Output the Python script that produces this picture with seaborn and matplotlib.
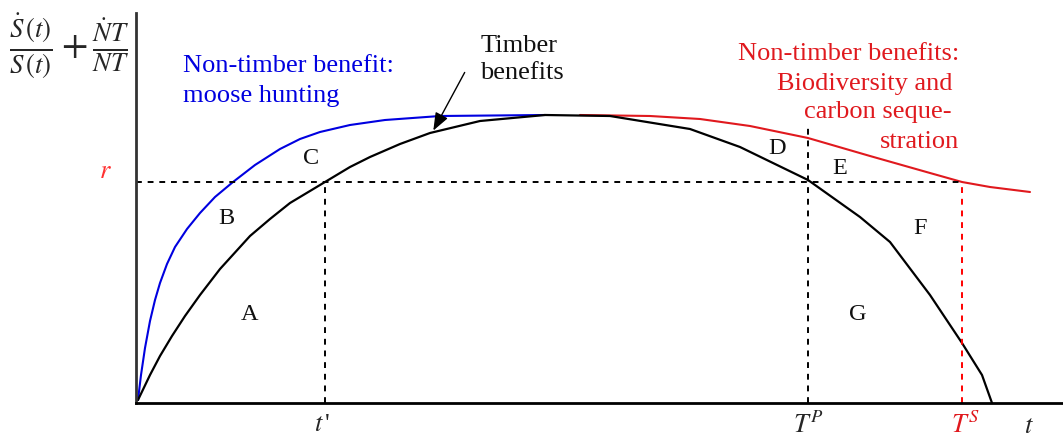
import numpy as np
import pandas as pd
import matplotlib
matplotlib.use("Agg")
import matplotlib.pyplot as plt
import seaborn as sns

# Marginal benefit curves over stand age t (x in age units, y in benefit units)
timber_t = [138, 150, 160, 172, 185, 200, 220, 250, 270, 290, 325, 350, 370, 400, 430, 480, 545,
            610, 690, 740, 808, 860, 890, 930, 962, 982, 992]
timber_v = [3, 28, 47, 67, 87, 108, 134, 167, 184, 200, 221, 236, 246, 259, 270, 282, 288,
            287, 274, 256, 223, 186, 161, 108, 60, 28, 0]

moose_t = [138, 141, 145, 150, 155, 160, 167, 175, 187, 200, 215, 233, 255, 280, 300, 320, 350, 385, 440, 545]
moose_v = [3, 28, 55, 82, 103, 120, 139, 156, 174, 190, 206, 221, 238, 254, 264, 271, 278, 283, 287, 288]

biodiv_t = [580, 650, 700, 750, 808, 870, 930, 962, 990, 1030]
biodiv_v = [288, 287, 284, 277, 265, 247, 230, 221, 216, 211]

# Interest rate and the rotation ages
r_level = 221
t_prime = 325
T_P = 808
T_S = 962

# Area labels
area_names = ["A", "B", "C", "D", "E", "F", "G"]
area_t = [250, 226, 311, 777, 840, 920, 858]
area_v = [88, 185, 245, 254, 235, 175, 88]

sns.set_theme(style="white")
plt.rcParams["font.family"] = ["Liberation Serif", "DejaVu Serif"]
plt.rcParams["mathtext.fontset"] = "stix"

fig = plt.figure(figsize=(10.63, 4.37), dpi=100)
ax = fig.add_axes([136 / 1063, (437 - 403) / 437, (1063 - 136) / 1063, (403 - 13) / 437])

timber = pd.DataFrame({"t": timber_t, "v": timber_v})
moose = pd.DataFrame({"t": moose_t, "v": moose_v})
biodiv = pd.DataFrame({"t": biodiv_t, "v": biodiv_v})

sns.lineplot(data=biodiv, x="t", y="v", sort=False, color="#e0191e", lw=1.5, ax=ax)
sns.lineplot(data=moose, x="t", y="v", sort=False, color="#0000e0", lw=1.5, ax=ax)
sns.lineplot(data=timber, x="t", y="v", sort=False, color="black", lw=1.6, ax=ax)

dash = (0, (3, 3))
ax.plot([136, T_S], [r_level, r_level], color="black", lw=1.4, ls=dash)
ax.plot([t_prime, t_prime], [0, r_level], color="black", lw=1.4, ls=dash)
ax.plot([T_P, T_P], [0, 275], color="black", lw=1.4, ls=dash)
ax.plot([T_S, T_S], [0, r_level], color="#ff0000", lw=1.4, ls=dash)

ax.set_xlim(136, 1063)
ax.set_ylim(0, 390)
ax.set_xticks([])
ax.set_yticks([])
ax.set_xlabel("")
ax.set_ylabel("")
for side in ["top", "right"]:
    ax.spines[side].set_visible(False)
ax.spines["left"].set_color("#333333")
ax.spines["bottom"].set_color("black")
ax.spines["left"].set_linewidth(2)
ax.spines["bottom"].set_linewidth(2)

for name, t, v in zip(area_names, area_t, area_v):
    ax.text(t, v, name, fontsize=17.5, ha="center", va="center", color="#111111")

# Curve annotations, one text per line (y values are baselines)
blue = "#0000e0"
red = "#e0191e"
ax.text(183, 403 - 72, "Non-timber benefit:", fontsize=19, color=blue, ha="left", va="baseline")
ax.text(183, 403 - 102, "moose hunting", fontsize=19, color=blue, ha="left", va="baseline")

ax.text(519, 403 - 52, "Timber", fontsize=19, color="#111111", ha="center", va="baseline")
ax.text(522, 403 - 79, "benefits", fontsize=19, color="#111111", ha="center", va="baseline")

red_lines = ["Non-timber benefits:", "Biodiversity and", "carbon seque-", "stration"]
red_right = [959, 953, 952, 959]
red_base = [60, 90, 118, 148]
for txt, xr, yb in zip(red_lines, red_right, red_base):
    ax.text(xr, 403 - yb, txt, fontsize=19, color=red, ha="right", va="baseline")

ax.annotate("", xy=(432, 270), xytext=(466, 333),
            arrowprops=dict(arrowstyle="-|>,head_length=0.9,head_width=0.35", color="black", lw=1))

# Labels outside the axes, placed in figure pixels
fig.text(9 / 1063, 1 - 46 / 437,
         r"$\frac{\dot{S}\,(t)}{S\,(t)}+\frac{\dot{N}T}{NT}$", fontsize=27.5, ha="left", va="center")
fig.text(105 / 1063, 1 - 172 / 437, r"$r$", fontsize=19, color="#ff3030", ha="center", va="center")
fig.text(t_prime / 1063 - 0.003, 1 - 425 / 437, r"$t\,$'", fontsize=19, ha="center", va="center")
fig.text(T_P / 1063, 1 - 425 / 437, r"$T^{P}$", fontsize=19, ha="center", va="center")
fig.text((T_S + 4) / 1063, 1 - 425 / 437, r"$T^{S}$", fontsize=19, color=red, ha="center", va="center")
fig.text(1029 / 1063, 1 - 427 / 437, r"$t$", fontsize=19, ha="center", va="center")

fig.savefig("out.png", dpi=100)
